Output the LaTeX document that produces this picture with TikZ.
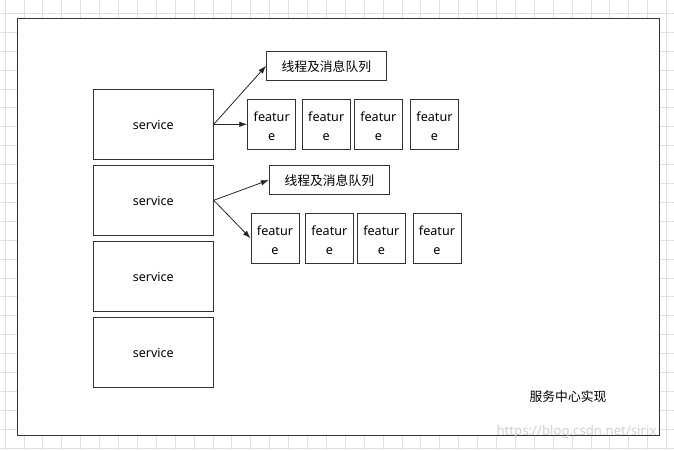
\documentclass[tikz,border=0pt]{standalone}
\usepackage{fontspec}
\setmainfont{Noto Sans}
\newfontfamily\cjk{Noto Sans CJK SC}
\usetikzlibrary{arrows.meta}
\begin{document}
\begin{tikzpicture}[x=1pt,y=-1pt,
  box/.style={draw=black!80, line width=0.9pt, rectangle, inner sep=0pt, fill=white},
  svc/.style={box, minimum width=120pt, minimum height=70pt, text height=12pt, text depth=2pt, font=\fontsize{12.5}{14}\selectfont},
  feat/.style={box, minimum width=48pt, minimum height=50pt, align=center, text height=33.5pt, font=\fontsize{12.6}{19}\selectfont},
  thr/.style={box, minimum width=119.5pt, minimum height=28.5pt, text height=12.5pt, text depth=1.5pt, font=\cjk\fontsize{12.8}{14}\selectfont},
  conn/.style={draw=black!85, line width=0.8pt, -{Latex[length=8pt,width=5.5pt]}},
  gridline/.style={draw=black!12, line width=0.8pt}
]
\useasboundingbox (0,0) rectangle (674,450);
\fill[white] (0,0) rectangle (674,450);
\foreach \k in {0,...,35} { \draw[gridline] ({5+18.9*\k},0) -- ({5+18.9*\k},450); }
\foreach \k in {0,...,23} { \draw[gridline] (0,{13.3+18.9*\k}) -- (674,{13.3+18.9*\k}); }
\draw[draw=black!80, line width=1.2pt, fill=white] (17.5,18.3) rectangle (659.5,435.8);

\node[svc] (s1) at (153.3,124.3) {service};
\node[svc] (s2) at (153.3,200.3) {service};
\node[svc, minimum height=69.3pt] (s3) at (153.3,276.3) {service};
\node[svc, minimum height=69.6pt] (s4) at (153.3,352.5) {service};

\node[thr] (t1) at (326.3,65.8) {线程及消息队列};
\node[feat] (f11) at (271.7,124.3) {featur\\e};
\node[feat] (f12) at (326.2,124.3) {featur\\e};
\node[feat] (f13) at (378.3,124.3) {featur\\e};
\node[feat] (f14) at (434.5,124.3) {featur\\e};

\node[thr, minimum width=120pt] (t2) at (329.3,180) {线程及消息队列};
\node[feat] (f21) at (275,238.3) {featur\\e};
\node[feat] (f22) at (329.3,238.3) {featur\\e};
\node[feat] (f23) at (381.3,238.3) {featur\\e};
\node[feat] (f24) at (437,238.3) {featur\\e};

\draw[conn] (s1.east) -- (t1.west);
\draw[conn] (s1.east) -- (f11.west);
\draw[conn] (s2.east) -- (t2.west);
\draw[conn] (s2.east) -- (f21.west);

\node[font=\cjk\fontsize{12.8}{14}\selectfont, inner sep=0pt] (title) at (568,396.7) {服务中心实现};
\node[font=\fontsize{13.2}{14}\selectfont, text=black!18, inner sep=0pt] (wm) at (576.5,431.7) {https://blog.csdn.net/sirix};
\end{tikzpicture}
\end{document}
